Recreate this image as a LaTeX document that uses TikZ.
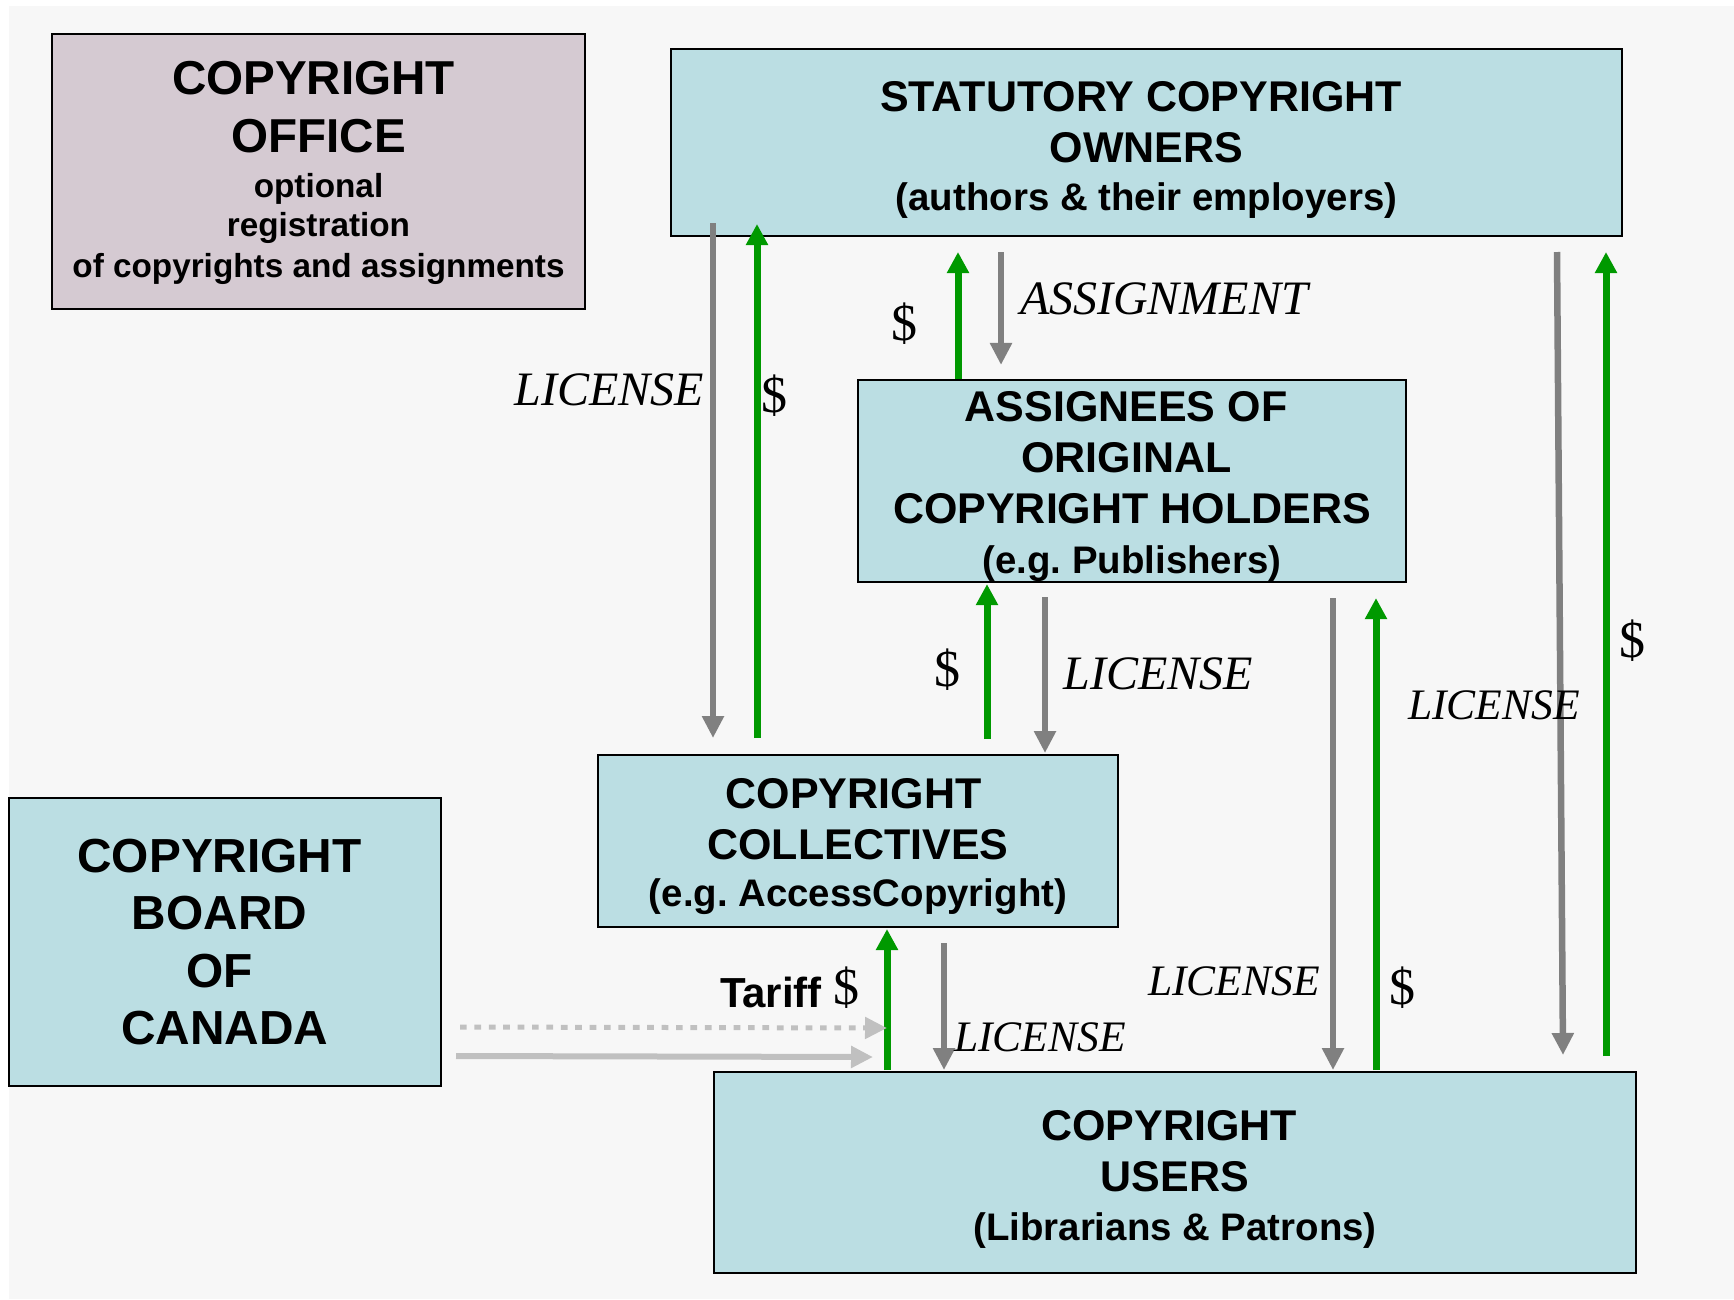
\documentclass[tikz,border=0pt]{standalone}
\usepackage{fontspec}
\setmainfont{Liberation Serif}
\setsansfont{Liberation Sans}
\usetikzlibrary{arrows.meta}
\definecolor{bgc}{HTML}{F7F7F7}
\definecolor{boxblue}{HTML}{BBDEE3}
\definecolor{officec}{HTML}{D5CAD2}
\definecolor{arrgreen}{HTML}{009900}
\definecolor{arrgray}{HTML}{808080}
\definecolor{arrlight}{HTML}{C0C0C0}
\frenchspacing
\tikzset{
  box/.style={draw=black, line width=2pt, fill=boxblue, inner sep=0pt, align=center,
    font=\sffamily\bfseries\fontsize{43}{51}\selectfont},
  greenarr/.style={draw=arrgreen, line width=7pt, -{Triangle[width=21pt,length=21pt]}},
  grayarr/.style={draw=arrgray, line width=6.5pt, -{Triangle[width=21pt,length=22pt]}},
  lightarr/.style={draw=arrlight, line width=6pt, -{Triangle[width=21pt,length=22pt]}},
  lbl/.style={font=\rmfamily\itshape\fontsize{48}{58}\selectfont, inner sep=0pt},
  lbls/.style={font=\rmfamily\itshape\fontsize{43.5}{52}\selectfont, inner sep=0pt},
  dol/.style={font=\rmfamily\fontsize{52}{60}\selectfont, inner sep=0pt},
}
\newcommand{\smallline}[1]{{\fontsize{38.4}{46}\selectfont #1}}
\newcommand{\offsmall}[1]{{\fontsize{33.3}{40}\selectfont #1}}
\newcommand{\tsp}[1]{\kern#1pt\relax}
\begin{document}
\begin{tikzpicture}[x=1pt,y=-1pt]
\useasboundingbox (0,0) rectangle (1734,1299);
\fill[white] (0,0) rectangle (1734,1299);
\fill[bgc] (9,6) rectangle (1734,1299);

% boxes
\node[box, fill=officec, minimum width=533pt, minimum height=275pt,
  font=\sffamily\bfseries\fontsize{47.6}{58}\selectfont] (office) at (318.5,171.5)
  {\rule{0pt}{37pt}COPYRIGHT\tsp{10}\\OFFICE\\[-13pt]\offsmall{optional}\\[-19pt]\offsmall{registration}\\[-17pt]\offsmall{of copyrights and assignments}};
\node[box, minimum width=951pt, minimum height=187pt] (stat) at (1146.5,142.5)
  {\rule{0pt}{45pt}STATUTORY COPYRIGHT\tsp{11}\\OWNERS\\[-3pt]\smallline{(authors \& their employers)}};
\node[box, minimum width=548pt, minimum height=202pt] (assg) at (1132,481)
  {\rule{0pt}{42pt}ASSIGNEES OF\tsp{12}\\ORIGINAL\tsp{11}\\COPYRIGHT HOLDERS\\[-1pt]\smallline{(e.g. Publishers)}};
\node[box, minimum width=520pt, minimum height=172pt] (coll) at (858,841)
  {\rule{0pt}{41pt}COPYRIGHT\tsp{9}\\COLLECTIVES\\[-4pt]\smallline{(e.g. AccessCopyright)}};
\node[box, minimum width=432pt, minimum height=288pt,
  font=\sffamily\bfseries\fontsize{47.8}{57.5}\selectfont] (board) at (225,942)
  {COPYRIGHT\tsp{11}\\BOARD\tsp{11}\\OF\tsp{11}\\CANADA};
\node[box, minimum width=922pt, minimum height=201pt] (users) at (1175,1172.5)
  {\rule{0pt}{43pt}COPYRIGHT\tsp{12}\\USERS\\[-2pt]\smallline{(Librarians \& Patrons)}};

% arrows statutory <-> collectives
\draw[grayarr] ([xshift=43pt,yshift=14pt]stat.south west) -- ([xshift=116pt,yshift=16pt]coll.north west);
\draw[greenarr] ([xshift=160pt,yshift=16pt]coll.north west) -- ([xshift=87pt,yshift=13pt]stat.south west);
% statutory <-> assignees
\draw[greenarr] ([xshift=101pt]assg.north west) -- ([xshift=288pt,yshift=-15pt]stat.south west);
\draw[grayarr] ([xshift=331pt,yshift=-15pt]stat.south west) -- ([xshift=144pt,yshift=14pt]assg.north west);
% assignees <-> collectives
\draw[greenarr] ([xshift=390pt,yshift=15pt]coll.north west) -- ([xshift=130pt,yshift=-1pt]assg.south west);
\draw[grayarr] ([xshift=188pt,yshift=-14pt]assg.south west) -- ([xshift=448pt,yshift=1pt]coll.north west);
% assignees <-> users
\draw[grayarr] ([xshift=476pt,yshift=-15pt]assg.south west) -- ([xshift=620pt,yshift=1pt]users.north west);
\draw[greenarr] ([xshift=663pt,yshift=1pt]users.north west) -- ([xshift=519pt,yshift=-15pt]assg.south west);
% statutory <-> users
\draw[grayarr] ([xshift=887pt,yshift=-15pt]stat.south west) -- ([xshift=850pt,yshift=16pt]users.north west);
\draw[greenarr] ([xshift=893pt,yshift=15pt]users.north west) -- ([xshift=936pt,yshift=-15pt]stat.south west);
% collectives <-> users
\draw[greenarr] ([xshift=174pt,yshift=1pt]users.north west) -- ([xshift=290pt,yshift=-1pt]coll.south west);
\draw[grayarr] ([xshift=347pt,yshift=-15pt]coll.south west) -- ([xshift=231pt,yshift=1pt]users.north west);
% board arrows
\coordinate (tariffend) at (887,1028);
\coordinate (boardend) at (873,1057);
\draw[lightarr, line width=5pt, dash pattern=on 6.7pt off 7.7pt] ([xshift=18pt,yshift=-230pt]board.north east) -- (tariffend);
\draw[lightarr] ([xshift=14pt,yshift=-259pt]board.north east) -- (boardend);

% labels
\node[lbl] (l1) at (609,390) {LICENSE};
\node[dol] (d1) at (774,396) {\$};
\node[dol] (d2) at (904,324) {\$};
\node[lbl] (asg) at (1164,299) {ASSIGNMENT};
\node[dol] (d3) at (947,670) {\$};
\node[lbl] (l2) at (1158,674) {LICENSE};
\node[lbls] (l3) at (1494,705) {LICENSE};
\node[dol] (d4) at (1632,641) {\$};
\node[lbls] (l4) at (1234,981) {LICENSE};
\node[dol] (d5) at (1402,988) {\$};
\node[inner sep=0pt, font=\sffamily\bfseries\fontsize{42}{50}\selectfont] (tariff) at (771,992) {Tariff};
\node[dol] (d6) at (846,988) {\$};
\node[lbls] (l5) at (1040,1037) {LICENSE};
\end{tikzpicture}
\end{document}
